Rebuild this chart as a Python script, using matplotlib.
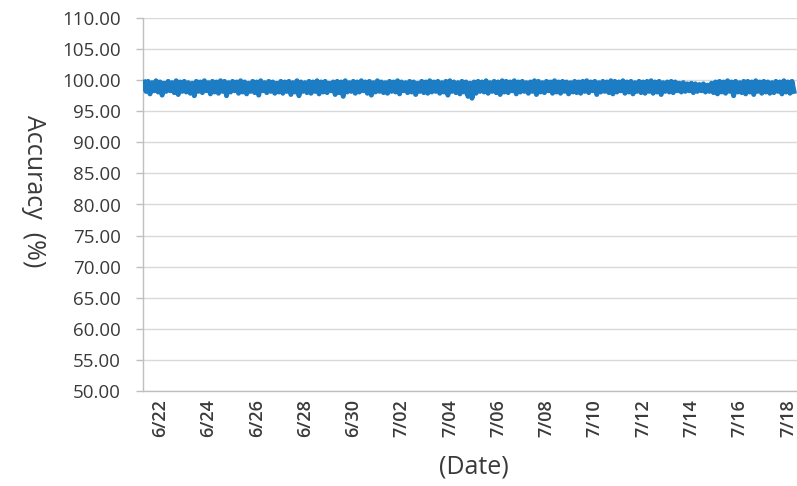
import matplotlib
matplotlib.use("Agg")
import matplotlib.pyplot as plt
import matplotlib.dates as mdates
from datetime import datetime, timedelta

plt.rcParams['font.family'] = ['Open Sans', 'DejaVu Sans']

# ---- data (4-hour envelope readings) ----
start_time = datetime(2019, 6, 21, 8, 0)
step_hours = 4

upper_vals = [
    99.7, 99.8, 99.6, 99.9, 99.7, 99.5,
    99.8, 99.6, 99.9, 99.7, 99.8, 99.6,
    99.5, 99.8, 99.7, 99.9, 99.6, 99.8,
    99.7, 99.9, 99.8, 99.6, 99.8, 99.7,
    99.9, 99.7, 99.5, 99.8, 99.7, 99.9,
    99.6, 99.8, 99.7, 99.5, 99.8, 99.7,
    99.8, 99.6, 99.9, 99.7, 99.6, 99.8,
    99.7, 99.9, 99.7, 99.8, 99.5, 99.7,
    99.8, 99.7, 99.9, 99.6, 99.8, 99.7,
    99.9, 99.7, 99.8, 99.6, 99.9, 99.7,
    99.6, 99.8, 99.7, 99.9, 99.7, 99.6,
    99.8, 99.7, 99.5, 99.8, 99.7, 99.9,
    99.7, 99.8, 99.6, 99.8, 99.9, 99.7,
    99.6, 99.8, 99.7, 99.5, 99.7, 99.8,
    99.7, 99.9, 99.6, 99.8, 99.7, 99.9,
    99.8, 99.7, 99.9, 99.7, 99.8, 99.6,
    99.7, 99.9, 99.8, 99.6, 99.8, 99.7,
    99.9, 99.7, 99.8, 99.7, 99.6, 99.8,
    99.7, 99.8, 99.9, 99.7, 99.8, 99.6,
    99.8, 99.7, 99.9, 99.8, 99.7, 99.9,
    99.7, 99.8, 99.6, 99.8, 99.7, 99.8,
    99.9, 99.7, 99.8, 99.6, 99.7, 99.8,
    99.7, 99.5, 99.6, 99.4, 99.5, 99.4,
    99.3, 99.4, 99.2, 99.5, 99.7, 99.8,
    99.7, 99.9, 99.7, 99.8, 99.6, 99.8,
    99.8, 99.7, 99.9, 99.7, 99.8, 99.7,
    99.6, 99.8, 99.7, 99.9, 99.7, 99.8,
]

lower_vals = [
    98.2, 97.8, 98.3, 98.1, 97.6, 98.2,
    98.3, 98.0, 97.7, 98.2, 98.1, 97.9,
    97.5, 98.2, 98.0, 98.3, 97.8, 98.1,
    97.9, 98.2, 97.5, 98.1, 98.3, 97.9,
    98.1, 97.8, 98.2, 98.0, 97.6, 98.3,
    98.0, 98.2, 97.9, 98.1, 97.9, 98.2,
    97.7, 98.1, 97.5, 98.2, 98.0, 97.9,
    98.2, 97.8, 98.1, 98.0, 98.3, 97.7,
    98.0, 97.4, 98.1, 98.2, 97.9, 98.1,
    98.3, 97.9, 97.6, 98.1, 98.2, 98.0,
    97.9, 98.2, 98.1, 97.8, 98.3, 98.0,
    98.1, 97.7, 98.2, 98.0, 97.9, 98.1,
    98.2, 97.9, 98.1, 97.6, 98.2, 98.0,
    97.8, 98.1, 97.4, 97.1, 97.9, 98.2,
    98.1, 97.9, 98.2, 98.0, 97.7, 98.1,
    98.0, 98.3, 97.8, 98.1, 98.2, 97.9,
    98.2, 97.7, 98.1, 98.0, 98.3, 97.9,
    98.1, 97.9, 98.2, 97.8, 98.1, 98.0,
    97.9, 98.2, 98.0, 98.3, 97.7, 98.1,
    98.2, 98.0, 97.8, 98.1, 98.3, 97.9,
    98.1, 97.8, 98.2, 98.0, 97.9, 98.2,
    97.9, 98.1, 97.7, 98.2, 98.1, 98.0,
    98.3, 98.1, 98.2, 98.3, 98.0, 98.2,
    98.3, 98.1, 98.2, 98.0, 97.8, 98.1,
    97.9, 98.2, 97.5, 98.1, 98.0, 97.8,
    98.1, 97.7, 98.2, 97.9, 98.1, 97.9,
    98.0, 98.2, 97.8, 98.1, 97.9, 98.2,
]

tick_labels = ["6/22", "6/24", "6/26", "6/28", "6/30", "7/02", "7/04",
               "7/06", "7/08", "7/10", "7/12", "7/14", "7/16", "7/18"]
y_ticks = [50, 55, 60, 65, 70, 75, 80, 85, 90, 95, 100, 105, 110]

# ---- build interleaved series (upper at t, lower at t+2h) ----
times, values = [], []
for i, (u, l) in enumerate(zip(upper_vals, lower_vals)):
    t = start_time + timedelta(hours=step_hours * i)
    times.append(t)
    values.append(u)
    times.append(t + timedelta(hours=step_hours / 2))
    values.append(l)

fig = plt.figure(figsize=(7.97, 4.86), dpi=100)
ax = fig.add_axes([143 / 797, 1 - 391 / 486, 1 - 143 / 797, (391 - 18) / 486])

ax.plot(mdates.date2num(times), values, color='#1C7CC4', lw=3.6,
        solid_joinstyle='round', zorder=3)

ax.set_ylim(50, 110)
ax.set_yticks(y_ticks)
ax.set_yticklabels([f"{v:.2f}" for v in y_ticks])

tick_pos = [mdates.date2num(datetime(2019, int(s.split('/')[0]), int(s.split('/')[1])))
            for s in tick_labels]
ax.set_xticks(tick_pos)
ax.set_xticklabels(tick_labels, rotation=90, fontweight='semibold')
ax.set_xlim(mdates.date2num(datetime(2019, 6, 21, 7, 0)),
            mdates.date2num(datetime(2019, 7, 18, 9, 0)))

ax.grid(axis='y', color='#D9D9D9', lw=1.0, zorder=0)
ax.set_axisbelow(True)
for side in ['top', 'right']:
    ax.spines[side].set_visible(False)
for side in ['left', 'bottom']:
    ax.spines[side].set_color('#BFBFBF')
    ax.spines[side].set_linewidth(1.0)

ax.tick_params(axis='y', length=5, width=1.0, color='#BFBFBF', labelsize=13.5,
               labelcolor='#3A3A3A', pad=11)
ax.tick_params(axis='x', length=0, labelsize=13, labelcolor='#3A3A3A', pad=6)

fig.text(33 / 797, 1 - 191 / 486, "Accuracy  (%)", rotation=270, ha='center',
         va='center', fontsize=18, color='#3A3A3A')
fig.text(474 / 797, 1 - 467 / 486, "(Date)", ha='center', va='center',
         fontsize=18, color='#3A3A3A')

fig.savefig("out.png", dpi=100)
